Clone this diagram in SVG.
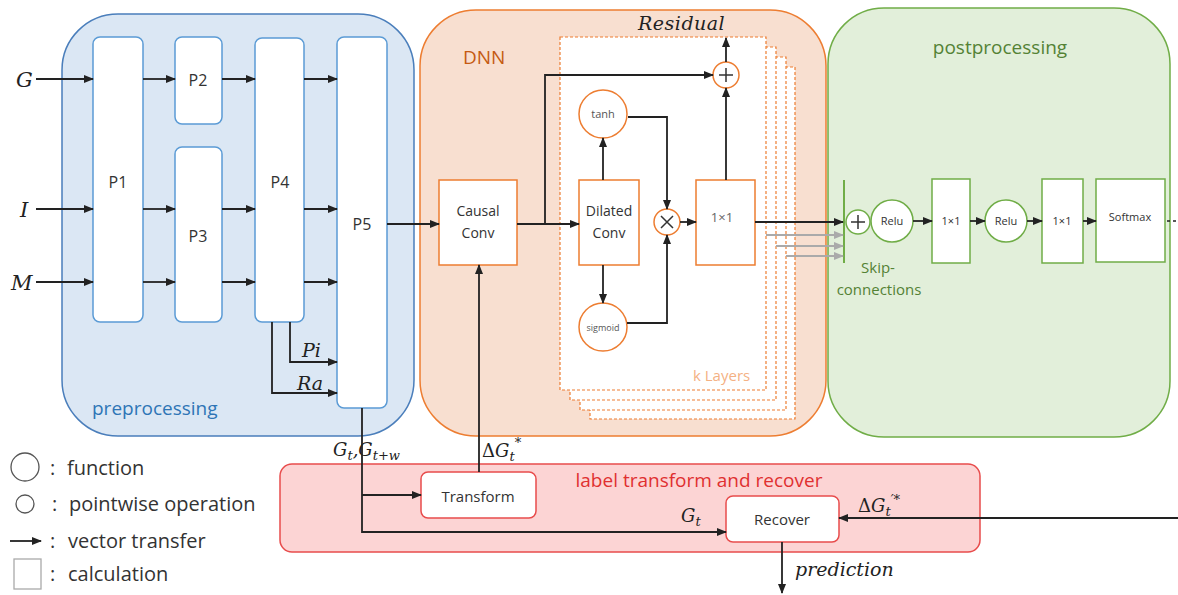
<svg xmlns="http://www.w3.org/2000/svg" width="1178" height="595" viewBox="0 0 1178 595">
<defs>
<marker id="ah" markerUnits="userSpaceOnUse" markerWidth="10" markerHeight="8" refX="9" refY="4" orient="auto"><path d="M0,0 L10,4 L0,8 Z" fill="#222"/></marker>
<marker id="ahg" markerUnits="userSpaceOnUse" markerWidth="10" markerHeight="8" refX="9" refY="4" orient="auto"><path d="M0,0 L10,4 L0,8 Z" fill="#aaa"/></marker>
<style>
.t{font-family:"Open Sans","Liberation Sans",sans-serif;fill:#333;}
.m{font-family:"DejaVu Serif","Liberation Serif",serif;font-style:italic;fill:#222;}
.pn{fill:#fff;stroke:#5b9bd5;stroke-width:1.5;}
.dn{fill:#fff;stroke:#ed7d31;stroke-width:1.5;}
.gn{fill:#fff;stroke:#70ad47;stroke-width:1.5;}
.rn{fill:#fff;stroke:#e84c4c;stroke-width:1.5;}
.ln{fill:none;stroke:#222;stroke-width:1.8;}
.la{fill:none;stroke:#222;stroke-width:1.8;marker-end:url(#ah);}
.lg{fill:none;stroke:#aaa;stroke-width:1.8;marker-end:url(#ahg);}
.lay{fill:#fff;stroke:#ed7d31;stroke-width:1.2;stroke-dasharray:3 2;}
</style>
</defs>

<!-- containers -->
<g id="preprocessing">
<rect x="62" y="14" width="352" height="422" rx="56" fill="#dbe7f4" stroke="#4a7ebb" stroke-width="1.5"/>
<text class="t" x="92" y="415" font-size="19" style="fill:#2e75b6">preprocessing</text>
</g>
<g id="dnn">
<rect x="420" y="10" width="406" height="426" rx="56" fill="#f8dfd0" stroke="#ed7d31" stroke-width="1.5"/>
<text class="t" x="463" y="64" font-size="19" style="fill:#c55a11">DNN</text>
</g>
<g id="postprocessing">
<rect x="828" y="8" width="342" height="429" rx="56" fill="#e2efda" stroke="#70ad47" stroke-width="1.5"/>
<text class="t" x="1000" y="54" font-size="19" text-anchor="middle" style="fill:#548235">postprocessing</text>
<text class="t" x="878" y="273" font-size="15" text-anchor="middle" style="fill:#548235">Skip-</text>
<text class="t" x="879" y="295" font-size="15" text-anchor="middle" style="fill:#548235">connections</text>
</g>
<g id="label-transform">
<rect x="280" y="464" width="700" height="88" rx="12" fill="#fcd4d4" stroke="#e84c4c" stroke-width="1.5"/>
<text class="t" x="699" y="487" font-size="19" text-anchor="middle" style="fill:#e03030">label transform and recover</text>
</g>

<!-- k layers stack -->
<g id="k-layers">
<rect class="lay" x="590" y="67" width="205" height="352"/>
<rect class="lay" x="580" y="57" width="206" height="353"/>
<rect class="lay" x="570" y="47" width="206" height="353"/>
<rect class="lay" x="560" y="37" width="206" height="353"/>
<text class="t" x="693" y="381" font-size="15" style="fill:#f4b183">k Layers</text>
</g>

<!-- preprocessing nodes -->
<g id="P1"><rect class="pn" x="93" y="37" width="50" height="285" rx="7"/><text class="t" x="118" y="188" font-size="16" text-anchor="middle">P1</text></g>
<g id="P2"><rect class="pn" x="175" y="37" width="47" height="87" rx="7"/><text class="t" x="198" y="86" font-size="16" text-anchor="middle">P2</text></g>
<g id="P3"><rect class="pn" x="175" y="147" width="47" height="175" rx="7"/><text class="t" x="198" y="242" font-size="16" text-anchor="middle">P3</text></g>
<g id="P4"><rect class="pn" x="255" y="38" width="49" height="284" rx="7"/><text class="t" x="280" y="188" font-size="16" text-anchor="middle">P4</text></g>
<g id="P5"><rect class="pn" x="337" y="37" width="50" height="371" rx="7"/><text class="t" x="362" y="230" font-size="16" text-anchor="middle">P5</text></g>

<!-- DNN nodes -->
<g id="causal-conv"><rect class="dn" x="439" y="180" width="78" height="85"/><text class="t" x="478" y="216" font-size="14" text-anchor="middle">Causal</text><text class="t" x="478" y="238" font-size="14" text-anchor="middle">Conv</text></g>
<g id="dilated-conv"><rect class="dn" x="579" y="180" width="60" height="85"/><text class="t" x="609" y="216" font-size="14" text-anchor="middle">Dilated</text><text class="t" x="609" y="238" font-size="14" text-anchor="middle">Conv</text></g>
<g id="tanh"><circle class="dn" cx="603" cy="114" r="24"/><text class="t" x="603" y="118" font-size="11" text-anchor="middle" style="fill:#555">tanh</text></g>
<g id="sigmoid"><circle class="dn" cx="603" cy="327" r="24"/><text class="t" x="603" y="331" font-size="9" text-anchor="middle" style="fill:#555">sigmoid</text></g>
<g id="mult"><circle class="dn" cx="667" cy="222" r="13"/><path d="M661,216 L673,228 M673,216 L661,228" stroke="#333" stroke-width="1.5"/></g>
<g id="conv1x1"><rect class="dn" x="696" y="180" width="59" height="85"/><text class="t" x="722" y="222" font-size="13" text-anchor="middle" style="fill:#666">1×1</text></g>
<g id="plus-res"><circle class="dn" cx="726" cy="75" r="13"/><path d="M726,68 V82 M719,75 H733" stroke="#333" stroke-width="1.5"/></g>
<text class="m" x="638" y="30" font-size="19" letter-spacing="0.5">Residual</text>

<!-- postprocessing nodes -->
<g id="skip-bar"><line x1="844" y1="180" x2="844" y2="263" stroke="#70ad47" stroke-width="2"/></g>
<g id="plus-skip"><circle class="gn" cx="858" cy="222" r="12"/><path d="M858,215 V229 M851,222 H865" stroke="#333" stroke-width="1.5"/></g>
<g id="relu1"><circle class="gn" cx="892" cy="221" r="21"/><text class="t" x="892" y="225" font-size="11" text-anchor="middle">Relu</text></g>
<g id="post1x1a"><rect class="gn" x="932" y="179" width="38" height="84"/><text class="t" x="951" y="225" font-size="11" text-anchor="middle">1×1</text></g>
<g id="relu2"><circle class="gn" cx="1006" cy="221" r="21"/><text class="t" x="1006" y="225" font-size="11" text-anchor="middle">Relu</text></g>
<g id="post1x1b"><rect class="gn" x="1042" y="179" width="41" height="84"/><text class="t" x="1062" y="225" font-size="11" text-anchor="middle">1×1</text></g>
<g id="softmax"><rect class="gn" x="1096" y="179" width="69" height="83"/><text class="t" x="1130" y="221" font-size="11" text-anchor="middle">Softmax</text></g>

<!-- label transform nodes -->
<g id="transform"><rect class="rn" x="421" y="472" width="115" height="46" rx="7"/><text class="t" x="478" y="502" font-size="15" text-anchor="middle">Transform</text></g>
<g id="recover"><rect class="rn" x="726" y="496" width="113" height="46" rx="7"/><text class="t" x="782" y="525" font-size="15" text-anchor="middle">Recover</text></g>

<!-- connectors -->
<g id="connectors">
<path class="la" d="M36,79 H93"/>
<path class="la" d="M36,209 H93"/>
<path class="la" d="M36,282 H93"/>
<path class="la" d="M143,79 H175"/>
<path class="la" d="M143,209 H175"/>
<path class="la" d="M143,282 H175"/>
<path class="la" d="M222,79 H255"/>
<path class="la" d="M222,209 H255"/>
<path class="la" d="M222,282 H255"/>
<path class="la" d="M304,79 H337"/>
<path class="la" d="M304,209 H337"/>
<path class="la" d="M304,282 H337"/>
<path class="la" d="M290,322 V362 H337"/>
<path class="la" d="M272,322 V393 H337"/>
<path class="la" d="M387,224 H439"/>
<path class="la" d="M362,408 V532 H726"/>
<path class="la" d="M362,495 H421"/>
<path class="la" d="M479,472 V265"/>
<path class="la" d="M517,224 H579"/>
<path class="la" d="M545,224 V75 H713"/>
<path class="la" d="M603,180 V138"/>
<path class="la" d="M628,117 H667 V209"/>
<path class="la" d="M603,265 V303"/>
<path class="la" d="M627,323 H667 V235"/>
<path class="la" d="M680,222 H696"/>
<path class="la" d="M726,180 V88"/>
<path class="la" d="M726,62 V38"/>
<path class="la" d="M755,222 H843"/>
<path class="lg" d="M766,235 H843"/>
<path class="lg" d="M776,246 H843"/>
<path class="lg" d="M786,256 H843"/>
<path class="la" d="M913,221 H932"/>
<path class="la" d="M970,221 H985"/>
<path class="la" d="M1027,221 H1042"/>
<path class="la" d="M1083,221 H1096"/>
<path d="M1167,221 H1178" stroke="#222" stroke-width="1.5" stroke-dasharray="3 3"/>
<path class="la" d="M1178,518 H839"/>
<path class="la" d="M782,542 V593"/>
</g>

<!-- math labels -->
<g id="labels">
<text class="m" x="16" y="87" font-size="21">G</text>
<text class="m" x="20" y="217" font-size="21">I</text>
<text class="m" x="11" y="290" font-size="21">M</text>
<text class="m" x="302" y="357" font-size="19">Pi</text>
<text class="m" x="297" y="390" font-size="19">Ra</text>
<text class="m" x="333" y="456" font-size="18">G<tspan font-size="13" dy="4">t</tspan><tspan dy="-4">,</tspan>G<tspan font-size="13" dy="4">t+w</tspan></text>
<text class="m" x="482" y="457" font-size="18"><tspan font-style="normal">Δ</tspan>G<tspan font-size="13" dy="4">t</tspan><tspan font-size="13" dy="-14">*</tspan></text>
<text class="m" x="681" y="522" font-size="18">G<tspan font-size="13" dy="4">t</tspan></text>
<text class="m" x="858" y="512" font-size="18"><tspan font-style="normal">Δ</tspan>G<tspan font-size="13" dy="4">t</tspan><tspan font-size="13" dy="-12">′*</tspan></text>
<text class="m" x="795" y="576" font-size="19">prediction</text>
</g>

<!-- legend -->
<g id="legend">
<circle cx="25" cy="467" r="14" fill="#fff" stroke="#555" stroke-width="1.3"/>
<text class="t" x="50" y="475" font-size="20">:</text><text class="t" x="67" y="475" font-size="20">function</text>
<circle cx="25" cy="504" r="9" fill="#fff" stroke="#555" stroke-width="1.3"/>
<text class="t" x="52" y="511" font-size="20">:</text><text class="t" x="69" y="511" font-size="20">pointwise operation</text>
<path class="la" d="M10,541 H41"/>
<text class="t" x="50" y="548" font-size="20">:</text><text class="t" x="68" y="548" font-size="20">vector transfer</text>
<rect x="14" y="559" width="27" height="30" fill="#fff" stroke="#aaa" stroke-width="1.3"/>
<text class="t" x="50" y="581" font-size="20">:</text><text class="t" x="68" y="581" font-size="20">calculation</text>
</g>
</svg>
